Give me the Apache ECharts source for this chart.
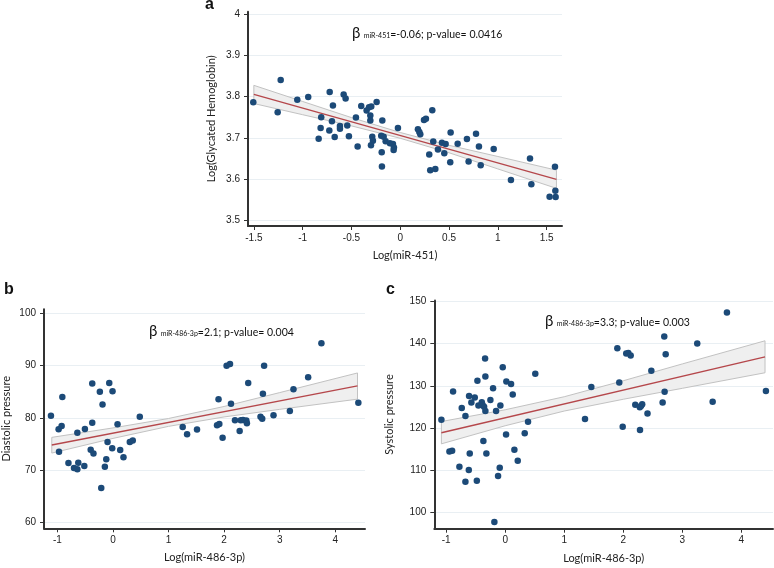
<!DOCTYPE html>
<html>
<head>
<meta charset="utf-8">
<script src="https://cdn.jsdelivr.net/npm/echarts@6/dist/echarts.min.js"></script>
<style>
html,body{margin:0;padding:0;background:#fff;}
#chart{width:774px;height:568px;}
</style>
</head>
<body>
<div id="chart"></div>
<script>
// ---------- Panel a: Log(miR-451) vs Log(Glycated Hemoglobin) ----------
const panelAPoints = [
 [-1.506,3.786],[-1.225,3.84],[-1.256,3.762],[-1.055,3.792],[-0.943,3.799],[-0.723,3.811],[-0.69,3.778],
 [-0.58,3.805],[-0.56,3.795],[-0.81,3.75],[-0.816,3.724],[-0.836,3.698],[-0.727,3.718],[-0.672,3.702],
 [-0.70,3.74],[-0.618,3.729],[-0.618,3.722],[-0.543,3.73],[-0.526,3.704],[-0.437,3.679],[-0.454,3.749],
 [-0.40,3.777],[-0.345,3.766],[-0.32,3.774],[-0.297,3.776],[-0.242,3.787],[-0.307,3.754],[-0.307,3.742],
 [-0.184,3.742],[-0.287,3.703],[-0.28,3.693],[-0.30,3.682],[-0.195,3.705],[-0.17,3.703],[-0.15,3.692],
 [-0.106,3.687],[-0.075,3.685],[-0.065,3.677],[-0.068,3.671],[-0.19,3.665],[-0.188,3.631],[-0.024,3.724],
 [0.181,3.721],[0.195,3.714],[0.205,3.709],[0.243,3.743],[0.263,3.746],[0.328,3.767],[0.338,3.691],
 [0.297,3.66],[0.307,3.622],[0.359,3.625],[0.386,3.672],[0.427,3.688],[0.465,3.685],[0.451,3.663],
 [0.516,3.713],[0.512,3.641],[0.588,3.686],[0.683,3.697],[0.70,3.643],[0.776,3.71],[0.806,3.679],
 [0.824,3.634],[0.957,3.673],[1.134,3.598],[1.329,3.65],[1.343,3.588],[1.585,3.63],[1.589,3.572],
 [1.53,3.558],[1.592,3.557]
];
const panelAFit = [[-1.5,3.805],[1.6,3.600]];
const panelABandX = [-1.5,-1,-0.5,0,0.5,1,1.6];
const panelABandLow = [3.783,3.756,3.729,3.699,3.664,3.625,3.578];
const panelABandHigh = [3.827,3.788,3.749,3.713,3.682,3.655,3.622];
const panelAXTicks = [-1.5,-1,-0.5,0,0.5,1,1.5];
const panelAYTicks = [3.5,3.6,3.7,3.8,3.9,4];

// ---------- Panel b: Log(miR-486-3p) vs Diastolic pressure ----------
const panelBPoints = [
 [-1.115,80.44],[-0.91,84.0],[-0.977,77.84],[-0.923,78.47],[-0.97,73.56],[-0.80,71.4],[-0.70,70.45],
 [-0.64,70.2],[-0.623,71.46],[-0.64,77.2],[-0.515,70.83],[-0.504,77.9],[-0.372,86.6],[-0.372,79.1],
 [-0.40,73.95],[-0.35,73.2],[-0.235,85.0],[-0.187,82.6],[-0.066,86.7],[-0.007,85.1],[-0.21,66.63],
 [-0.145,70.7],[-0.12,72.1],[-0.097,75.4],[-0.013,74.2],[0.083,78.8],[0.131,73.9],[0.19,72.5],
 [0.304,75.4],[0.357,75.7],[0.483,80.25],[1.255,78.3],[1.334,76.9],[1.513,77.8],[2.045,90.0],
 [2.106,90.3],[1.9,83.6],[2.124,82.7],[1.873,78.6],[1.914,78.85],[1.973,76.24],[2.196,79.56],
 [2.28,77.5],[2.30,79.55],[2.34,79.6],[2.40,79.5],[2.41,79.0],[2.434,86.7],[2.655,80.25],
 [2.686,79.87],[2.698,84.65],[2.72,90.0],[2.889,80.5],[3.183,81.34],[3.248,85.5],[3.512,87.77],
 [3.751,94.27],[4.415,82.93]
];
const panelBFit = [[-1.1,74.84],[4.4,86.12]];
const panelBBandX = [-1.1,0,1,2,3,4.4];
const panelBBandLow = [73.3,76.1,78.4,80.2,81.65,83.6];
const panelBBandHigh = [76.3,78.1,79.9,82.2,84.85,88.6];
const panelBXTicks = [-1,0,1,2,3,4];
const panelBYTicks = [60,70,80,90,100];

// ---------- Panel c: Log(miR-486-3p) vs Systolic pressure ----------
const panelCPoints = [
 [-1.08,121.9],[-0.882,128.67],[-0.944,114.4],[-0.898,114.56],[-0.775,110.76],[-0.735,124.7],
 [-0.673,122.8],[-0.673,107.2],[-0.611,127.6],[-0.616,109.98],[-0.60,113.9],[-0.572,126.05],
 [-0.515,127.2],[-0.48,107.4],[-0.47,131.2],[-0.453,125.3],[-0.396,126.1],[-0.38,125.4],
 [-0.357,125.0],[-0.335,124.0],[-0.34,136.5],[-0.335,132.2],[-0.369,116.9],[-0.318,113.9],
 [-0.25,126.6],[-0.205,129.4],[-0.154,124.0],[-0.081,125.3],[-0.041,134.4],[-0.12,108.55],
 [-0.092,110.5],[-0.183,97.6],[0.015,118.4],[0.02,131.0],[0.10,130.4],[0.128,127.95],
 [0.156,114.8],[0.213,112.2],[0.331,118.7],[0.387,121.45],[0.51,132.85],[1.352,122.1],
 [1.459,129.7],[1.899,138.9],[2.05,137.7],[2.085,137.8],[2.125,137.2],[1.932,130.8],
 [1.99,120.26],[2.203,125.5],[2.30,125.2],[2.32,125.6],[2.28,124.9],[2.283,119.5],
 [2.41,123.4],[2.475,133.6],[2.666,126.05],[2.694,141.7],[2.718,137.5],[2.70,128.6],
 [3.252,140.07],[3.513,126.2],[3.755,147.4],[4.415,128.74]
];
const panelCFit = [[-1.08,118.84],[4.4,136.9]];
const panelCBandX = [-1.08,0,1,2,3,4.4];
const panelCBandLow = [116.2,120.5,124.0,126.8,129.4,133.1];
const panelCBandHigh = [121.5,124.3,127.4,131.2,135.2,140.7];
const panelCXTicks = [-1,0,1,2,3,4];
const panelCYTicks = [100,110,120,130,140,150];

// ---------- text ----------
const axisNames = {
  aX: 'Log(miR-451)', aY: 'Log(Glycated Hemoglobin)',
  bX: 'Log(miR-486-3p)', bY: 'Diastolic pressure',
  cX: 'Log(miR-486-3p)', cY: 'Systolic pressure'
};

const POINT = '#1c4a78';
const FIT = '#b5474b';
const AXIS = '#333333';
const GRID = '#e9eff3';
const TICKFONT = 'Liberation Sans, Arial, sans-serif';
const NAMEFONT = 'Lato, sans-serif';

function xAxisCfg(gi, min, max, ticks, name) {
  return {
    type: 'value', gridIndex: gi, min: min, max: max, position: 'bottom',
    name: name, nameLocation: 'middle', nameGap: 24,
    nameTextStyle: {fontFamily: NAMEFONT, fontSize: 11, color: '#222'},
    axisLine: {show: true, onZero: false, lineStyle: {color: AXIS, width: 2}},
    axisTick: {show: true, length: 4, customValues: ticks, lineStyle: {color: AXIS, width: 1}},
    axisLabel: {customValues: ticks, margin: 7, fontFamily: TICKFONT, fontSize: 10, color: '#222'},
    splitLine: {show: false}
  };
}
function yAxisCfg(gi, min, max, ticks, name, gap) {
  return {
    type: 'value', gridIndex: gi, min: min, max: max, position: 'left',
    name: name, nameLocation: 'middle', nameGap: gap, nameRotate: 90,
    nameTextStyle: {fontFamily: NAMEFONT, fontSize: 11, color: '#222'},
    axisLine: {show: true, onZero: false, lineStyle: {color: AXIS, width: 2}},
    axisTick: {show: true, length: 4, customValues: ticks, lineStyle: {color: AXIS, width: 1}},
    axisLabel: {customValues: ticks, margin: 8, fontFamily: TICKFONT, fontSize: 10, color: '#222'},
    splitLine: {show: true, lineStyle: {color: GRID, width: 1}}
  };
}
function bandSeries(gi, bx, lo, hi) {
  return {
    type: 'custom', xAxisIndex: gi, yAxisIndex: gi, silent: true, z: 1,
    data: bx.map((x, i) => [x, lo[i], hi[i]]),
    encode: {x: 0, y: [1, 2]},
    renderItem: function (params, api) {
      if (params.dataIndex !== 0) return;
      const up = bx.map((x, i) => api.coord([x, hi[i]]));
      const dn = bx.map((x, i) => api.coord([x, lo[i]]));
      return {
        type: 'group',
        children: [
          {type: 'polygon', shape: {points: up.concat(dn.slice().reverse())}, style: {fill: '#efefef', stroke: null}},
          {type: 'polyline', shape: {points: up}, style: {stroke: '#c2c2c2', lineWidth: 1, fill: null}},
          {type: 'polyline', shape: {points: dn}, style: {stroke: '#c2c2c2', lineWidth: 1, fill: null}},
          {type: 'line', shape: {x1: up[0][0], y1: up[0][1], x2: dn[0][0], y2: dn[0][1]}, style: {stroke: '#c2c2c2', lineWidth: 1}},
          {type: 'line', shape: {x1: up[up.length-1][0], y1: up[up.length-1][1], x2: dn[dn.length-1][0], y2: dn[dn.length-1][1]}, style: {stroke: '#c2c2c2', lineWidth: 1}}
        ]
      };
    }
  };
}
function fitSeries(gi, pts) {
  return {type: 'line', xAxisIndex: gi, yAxisIndex: gi, data: pts, symbol: 'none', silent: true, z: 2,
    lineStyle: {color: FIT, width: 1.3}};
}
function scatterSeries(gi, pts) {
  return {type: 'scatter', xAxisIndex: gi, yAxisIndex: gi, data: pts, symbolSize: 6.5, z: 3,
    itemStyle: {color: POINT, opacity: 1}};
}
function annot(left, top, sub, rest) {
  return {
    type: 'text', left: left, top: top, z: 10,
    style: {
      text: '{b|β} {s|' + sub + '}{n|' + rest + '}',
      rich: {
        b: {fontFamily: NAMEFONT, fontSize: 15, fill: '#111'},
        s: {fontFamily: NAMEFONT, fontSize: 7, fill: '#111', padding: [5, 0, 0, 0]},
        n: {fontFamily: NAMEFONT, fontSize: 10.5, fill: '#111', padding: [2, 0, 0, 0]}
      }
    }
  };
}
function letter(left, top, t) {
  return {type: 'text', left: left, top: top, z: 10,
    style: {text: t, fontFamily: 'Liberation Sans, Arial, sans-serif', fontSize: 16, fontWeight: 'bold', fill: '#111'}};
}

const chart = echarts.init(document.getElementById('chart'), null, {renderer: 'canvas'});
chart.setOption({
  backgroundColor: '#ffffff',
  animation: false,
  grid: [
    {left: 248, top: 11.7, width: 314, height: 214.3},
    {left: 43.3, top: 309.3, width: 321.7, height: 219},
    {left: 434.3, top: 300.4, width: 338.7, height: 228.3}
  ],
  xAxis: [
    xAxisCfg(0, -1.560, 1.657, panelAXTicks, axisNames.aX),
    xAxisCfg(1, -1.24, 4.535, panelBXTicks, axisNames.bX),
    xAxisCfg(2, -1.2, 4.535, panelCXTicks, axisNames.cX)
  ],
  yAxis: [
    yAxisCfg(0, 3.487, 4.005, panelAYTicks, axisNames.aY, 31),
    yAxisCfg(1, 58.93, 100.76, panelBYTicks, axisNames.bY, 32),
    yAxisCfg(2, 96.03, 150.3, panelCYTicks, axisNames.cY, 39)
  ],
  series: [
    bandSeries(0, panelABandX, panelABandLow, panelABandHigh),
    fitSeries(0, panelAFit),
    scatterSeries(0, panelAPoints),
    bandSeries(1, panelBBandX, panelBBandLow, panelBBandHigh),
    fitSeries(1, panelBFit),
    scatterSeries(1, panelBPoints),
    bandSeries(2, panelCBandX, panelCBandLow, panelCBandHigh),
    fitSeries(2, panelCFit),
    scatterSeries(2, panelCPoints)
  ],
  graphic: [
    annot(352, 26, 'miR-451', '=-0.06; p-value= 0.0416'),
    annot(149, 324, 'miR-486-3p', '=2.1; p-value= 0.004'),
    annot(545, 314, 'miR-486-3p', '=3.3; p-value= 0.003'),
    letter(205, -3, 'a'),
    letter(4, 282, 'b'),
    letter(386, 282, 'c')
  ]
});
</script>
</body>
</html>
